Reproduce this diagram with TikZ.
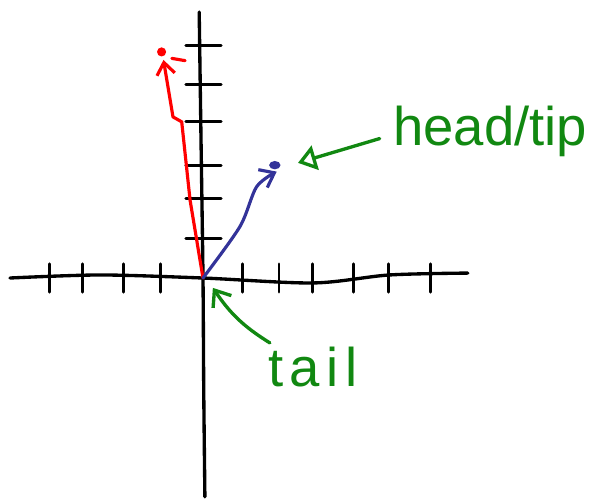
\documentclass[tikz,border=0pt]{standalone}
\usepackage{fontspec}
\setmainfont{Liberation Sans}
\usetikzlibrary{arrows.meta,positioning,calc}
\definecolor{penred}{HTML}{FF0000}
\definecolor{penblue}{HTML}{333399}
\definecolor{pengreen}{HTML}{118811}
\tikzset{
  vaxis/.style={line width=1.9pt,draw=black,line cap=round,line join=round},
  vtick/.style={line width=1.7pt,draw=black,line cap=round},
  vred/.style={-{Straight Barb[length=2.4mm,width=3.6mm]},line width=1.8pt,draw=penred,line cap=round,line join=round},
  vblue/.style={-{Straight Barb[length=2.6mm,width=4mm]},line width=1.8pt,draw=penblue,line cap=round,line join=round},
  vgreen/.style={-{Triangle[open,length=3.6mm,width=5mm]},line width=1.9pt,draw=pengreen,line cap=round},
  vgbarb/.style={-{Straight Barb[length=2.8mm,width=4.4mm]},line width=1.9pt,draw=pengreen,line cap=round},
  vlabel/.style={text=pengreen,font=\fontsize{31}{31}\selectfont,inner sep=1pt}
}
\begin{document}
\begin{tikzpicture}[x=0.76cm,y=0.76cm]
  \useasboundingbox (-5.342,-5.895) rectangle (10.5,7.316);
  % axes, one unit = one tick
  \coordinate (O) at (0,0);
  \draw[vaxis] plot[smooth] coordinates {(-5.08,0.0) (-2.7,0.08) (0,0) (2.9,-0.13) (4.9,0.08) (6.97,0.13)};
  \draw[vaxis] plot[smooth] coordinates {(-0.1,7.0) (-0.05,3.5) (0,0) (0.02,-3) (0.05,-5.76)};
  \foreach \t in {-4.03,-3.16,-2.08,-1.13,1.03,2.0,2.89,3.95,4.87,5.99}
    \draw[vtick] (\t,-0.37) -- (\t,0.37);
  \foreach \t in {1.05,2.08,2.95,4.13,5.08,6.13}
    \draw[vtick] (-0.45,\t) -- (0.48,\t);
  % vectors
  \coordinate (redhead) at (-1.04,5.74);
  \coordinate (redtip) at (-1.09,5.95);
  \coordinate (bluehead) at (1.94,2.80);
  \coordinate (bluetip) at (1.89,2.97);
  \draw[vred] (O) -- (-0.34,2.05) -- (-0.56,4.11) -- (-0.79,4.24) -- (redhead);
  \fill[penred] (redtip) circle (0.12);
  \draw[line width=1.8pt,draw=penred,line cap=round] (-0.82,5.78) -- (-0.47,5.72);
  \draw[vblue] plot[smooth] coordinates {(O) (0.97,1.35) (1.41,2.40) (bluehead)};
  \fill[penblue] (bluetip) ellipse (0.15 and 0.11);
  % labels
  \node[vlabel,anchor=west] (headlbl) at (4.95,3.85) {head/tip};
  \node[vlabel] (taillbl) at (2.89,-2.34) {\addfontfeatures{LetterSpace=12}tail};
  \coordinate (headpt) at (2.5,3.03);
  \coordinate (tailpt) at (0.26,-0.26);
  \draw[vgreen] ($(headlbl.west)+(-0.3,-0.18)$) -- (headpt);
  \draw[vgbarb] ($(taillbl.north west)+(0.1,0.05)$) to[bend left=12] (tailpt);
\end{tikzpicture}
\end{document}
